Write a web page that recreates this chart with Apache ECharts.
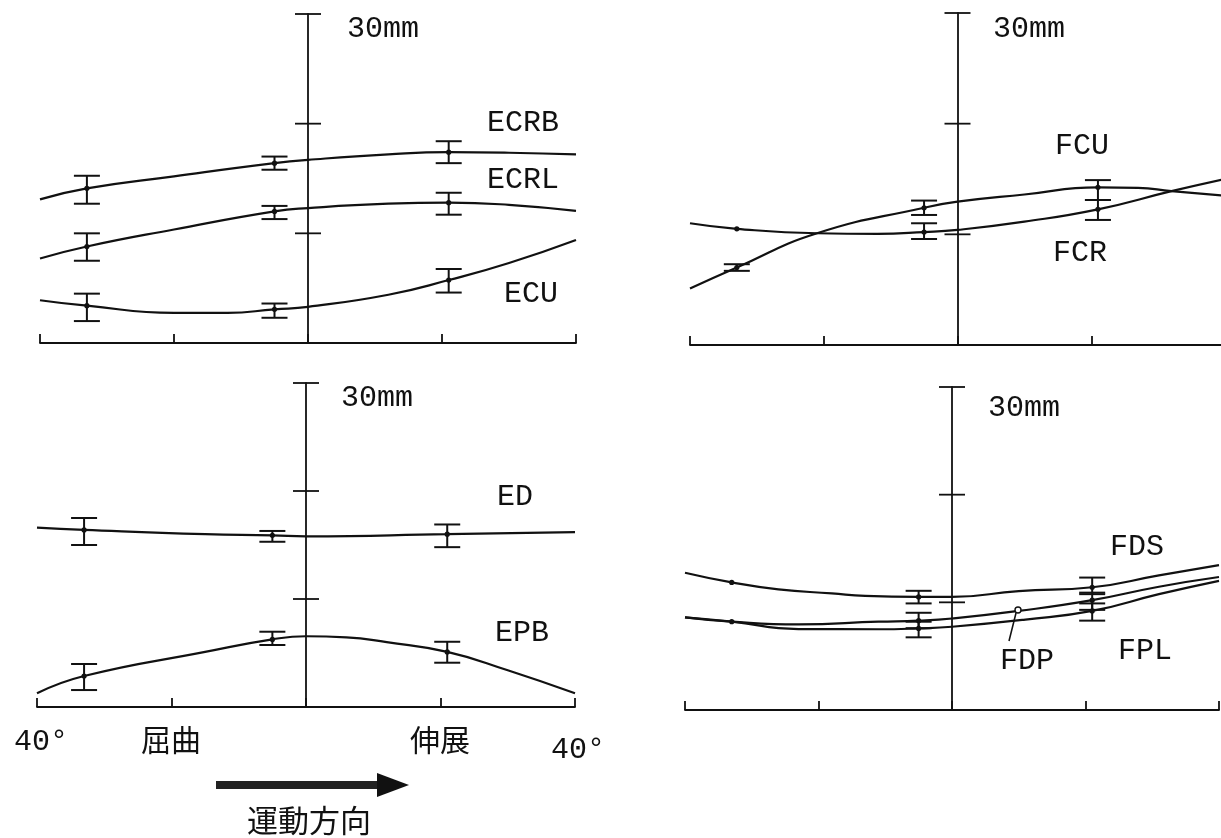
<!DOCTYPE html>
<html><head><meta charset="utf-8">
<script src="https://cdn.jsdelivr.net/npm/echarts@6/dist/echarts.min.js"></script>
<style>html,body{margin:0;padding:0;background:#fff}#c{width:1221px;height:838px}</style>
</head><body><div id="c"></div><script>
// ---- data (angle in degrees, displacement in mm) ----
// top-left panel
const ecrbCurve = [[-40,13.1],[-33,14.1],[-20,15.2],[-5,16.4],[0,16.7],[12,17.2],[21,17.4],[30,17.35],[40,17.2]];
const ecrbBars  = [[-33,14.1,12.7,15.25],[-5,16.4,15.8,17.0],[21,17.4,16.4,18.4]];
const ecrlCurve = [[-40,7.7],[-33,8.8],[-20,10.35],[-5,12.0],[0,12.3],[12,12.7],[21,12.8],[30,12.6],[40,12.05]];
const ecrlBars  = [[-33,8.8,7.5,10.0],[-5,12.0,11.3,12.5],[21,12.8,11.7,13.7]];
const ecuCurve  = [[-40,3.9],[-33,3.4],[-20,2.75],[-12,2.75],[-5,3.07],[0,3.3],[12,4.4],[21,5.74],[30,7.3],[40,9.4]];
const ecuBars   = [[-33,3.4,2.0,4.5],[-5,3.07,2.3,3.6],[21,5.74,4.6,6.75]];
// top-right panel
const fcuCurve  = [[-40,5.1],[-33,7.0],[-21,10.1],[-5,12.4],[0,12.95],[10,13.6],[21,14.25],[27,14.2],[32,13.9],[40,13.5]];
const fcuBars   = [[-33,7.0,6.7,7.3],[-5,12.4,11.75,13.05],[21,14.25,13.1,14.9]];
const fcrCurve  = [[-40,11.0],[-33,10.5],[-21,10.1],[-12,10.05],[-5,10.2],[0,10.4],[10,11.15],[21,12.26],[32,13.9],[40,15.0]];
const fcrBars   = [[-33,10.5,10.5,10.5],[-5,10.2,9.58,11.0],[21,12.26,11.3,13.1]];
// bottom-left panel
const edCurve   = [[-40,16.6],[-33,16.4],[-15,16.0],[-5,15.9],[0,15.8],[21,16.0],[40,16.2]];
const edBars    = [[-33,16.4,15.0,17.5],[-5,15.9,15.3,16.3],[21,16.0,14.8,16.9]];
const epbCurve  = [[-40,1.27],[-33,2.87],[-15,5.1],[-5,6.26],[0,6.55],[6,6.45],[12,6.0],[21,5.1],[30,3.4],[40,1.27]];
const epbBars   = [[-33,2.87,1.57,3.98],[-5,6.26,5.74,6.97],[21,5.1,4.1,6.04]];
// bottom-right panel
const fdsCurve  = [[-40,12.75],[-33,11.85],[-26,11.2],[-18,10.83],[-13,10.6],[-5,10.5],[0,10.5],[10,11.05],[21,11.4],[31,12.5],[40,13.45]];
const fdsBars   = [[-33,11.85,11.85,11.85],[-5,10.5,9.9,11.07],[21,11.4,10.76,12.3]];
const fdpCurve  = [[-40,8.6],[-33,8.2],[-23,7.95],[-11,8.2],[-5,8.3],[0,8.5],[10,9.2],[21,10.2],[31,11.45],[40,12.35]];
const fdpBars   = [[-33,8.2,8.2,8.2],[-5,8.3,7.6,9.03],[21,10.2,9.3,10.9]];
const fplCurve  = [[-40,8.6],[-33,8.2],[-23,7.52],[-11,7.5],[-5,7.58],[0,7.73],[11,8.4],[21,9.2],[31,10.76],[40,12.0]];
const fplBars   = [[-5,7.58,6.75,8.2],[21,9.2,8.3,9.9]];
// axis ticks
const xTickStep = 20;
const yCrossTicks = [10, 20, 30];

const INK = '#111';
const chart = echarts.init(document.getElementById('c'), null, {renderer: 'canvas'});

const grids = [
  {left: 40,  top: 14,  width: 536, height: 329},
  {left: 690, top: 13,  width: 535, height: 332},
  {left: 37,  top: 383, width: 538, height: 324},
  {left: 685, top: 387, width: 534, height: 323}
];

function capLine(x, y, half) {
  return {type: 'line', shape: {x1: x - half, y1: y, x2: x + half, y2: y}, style: {stroke: INK, lineWidth: 2}};
}
function renderBar(params, api) {
  const x = api.value(0), m = api.value(1), lo = api.value(2), hi = api.value(3);
  const pm = api.coord([x, m]);
  const children = [];
  if (lo !== hi) {
    const pl = api.coord([x, lo]), ph = api.coord([x, hi]);
    children.push({type: 'line', shape: {x1: pl[0], y1: pl[1], x2: ph[0], y2: ph[1]}, style: {stroke: INK, lineWidth: 2}});
    children.push(capLine(pl[0], pl[1], 13));
    children.push(capLine(ph[0], ph[1], 13));
  }
  children.push({type: 'circle', shape: {cx: pm[0], cy: pm[1], r: 2.6}, style: {fill: INK}});
  return {type: 'group', children};
}
function renderCross(params, api) {
  const p = api.coord([0, api.value(0)]);
  return {type: 'line', shape: {x1: p[0] - 13, y1: p[1], x2: p[0] + 13, y2: p[1]}, style: {stroke: INK, lineWidth: 1.8}};
}

const panels = [
  {curves: [ecrbCurve, ecrlCurve, ecuCurve], bars: [ecrbBars, ecrlBars, ecuBars], names: ['ECRB', 'ECRL', 'ECU']},
  {curves: [fcuCurve, fcrCurve], bars: [fcuBars, fcrBars], names: ['FCU', 'FCR']},
  {curves: [edCurve, epbCurve], bars: [edBars, epbBars], names: ['ED', 'EPB']},
  {curves: [fdsCurve, fdpCurve, fplCurve], bars: [fdsBars, fdpBars, fplBars], names: ['FDS', 'FDP', 'FPL']}
];

const series = [];
panels.forEach((p, g) => {
  p.curves.forEach((c, i) => {
    series.push({type: 'line', name: p.names[i], xAxisIndex: g, yAxisIndex: g, data: c, smooth: 0.5,
      showSymbol: false, symbol: 'none', lineStyle: {color: INK, width: 2.2}, silent: true, z: 3});
  });
  p.bars.forEach((b, i) => {
    series.push({type: 'custom', name: p.names[i] + ' SD', xAxisIndex: g, yAxisIndex: g, data: b,
      encode: {x: 0, y: 1}, renderItem: renderBar, silent: true, z: 4});
  });
  series.push({type: 'custom', xAxisIndex: g, yAxisIndex: g, data: yCrossTicks.map(v => [v]),
    encode: {y: 0}, renderItem: renderCross, silent: true, z: 5});
});

const xAxes = grids.map((_, g) => ({
  type: 'value', gridIndex: g, min: -40, max: 40, interval: xTickStep,
  axisLine: {show: true, onZero: false, lineStyle: {color: INK, width: 1.8}},
  axisTick: {show: true, inside: true, length: 9, lineStyle: {color: INK, width: 1.8}},
  axisLabel: {show: false}, splitLine: {show: false}
}));
const yAxes = grids.map((_, g) => ({
  type: 'value', gridIndex: g, min: 0, max: 30, interval: 10,
  axisLine: {show: true, onZero: true, lineStyle: {color: INK, width: 1.8}},
  axisTick: {show: false}, axisLabel: {show: false}, splitLine: {show: false}
}));

const MONO = '"Liberation Mono", "DejaVu Sans Mono", monospace';
const CJK = '"Noto Sans CJK JP", "Noto Sans CJK SC", sans-serif';
function txt(text, x, y, size, family, align) {
  return {type: 'text', x: x, y: y, silent: true, z: 10,
    style: {text: text, fontSize: size, fontFamily: family, fill: INK,
      align: align || 'center', verticalAlign: 'middle',
      textAlign: align || 'center', textVerticalAlign: 'middle'}};
}

const graphic = [
  txt('30mm', 347, 29, 30, MONO, 'left'),
  txt('30mm', 993, 29, 30, MONO, 'left'),
  txt('30mm', 341, 398, 30, MONO, 'left'),
  txt('30mm', 988, 408, 30, MONO, 'left'),
  txt('ECRB', 523, 123, 30, MONO),
  txt('ECRL', 523, 180, 30, MONO),
  txt('ECU', 531, 294, 30, MONO),
  txt('FCU', 1082, 146, 30, MONO),
  txt('FCR', 1080, 253, 30, MONO),
  txt('ED', 515, 497, 30, MONO),
  txt('EPB', 522, 633, 30, MONO),
  txt('FDS', 1137, 547, 30, MONO),
  txt('FDP', 1027, 661, 30, MONO),
  txt('FPL', 1145, 651, 30, MONO),
  txt('40°', 41, 742, 30, MONO),
  txt('40°', 578, 750, 30, MONO),
  txt('屈曲', 171, 740, 30, CJK),
  txt('伸展', 440, 740, 30, CJK),
  txt('運動方向', 309, 820, 31, CJK),
  {type: 'rect', shape: {x: 216, y: 781, width: 163, height: 8}, style: {fill: '#222'}, silent: true},
  {type: 'polygon', shape: {points: [[377, 773], [409, 785], [377, 797]]}, style: {fill: '#111'}, silent: true},
  {type: 'line', shape: {x1: 1009, y1: 641, x2: 1016, y2: 613}, style: {stroke: INK, lineWidth: 1.6}, silent: true},
  {type: 'circle', shape: {cx: 1018, cy: 610, r: 3}, style: {fill: '#fff', stroke: INK, lineWidth: 1.4}, silent: true, z: 10}
];

chart.setOption({
  backgroundColor: '#fff',
  animation: false,
  grid: grids.map(g => Object.assign({containLabel: false, outerBoundsMode: 'none'}, g)),
  xAxis: xAxes,
  yAxis: yAxes,
  series: series,
  graphic: graphic
});
</script></body></html>
